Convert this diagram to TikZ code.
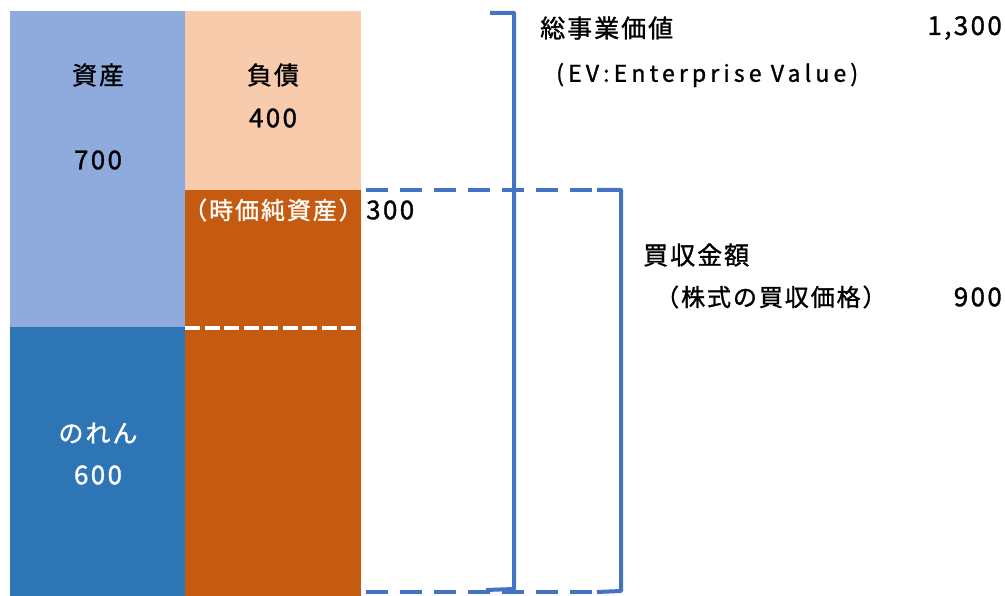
\documentclass[tikz,border=0pt]{standalone}
\usepackage{fontspec}
\setmainfont{Noto Sans CJK JP}
\newfontfamily\jp[LetterSpace=8,FakeBold=1.2]{Noto Sans CJK JP}
\newfontfamily\num[LetterSpace=9,FakeBold=1.2]{Noto Sans CJK JP}
\newfontfamily\lat[LetterSpace=18,FakeBold=1.2]{Noto Sans CJK JP}
\definecolor{lblue}{HTML}{8FAADC}
\definecolor{dblue}{HTML}{2E75B6}
\definecolor{lorange}{HTML}{F8CBAD}
\definecolor{dorange}{HTML}{C55A11}
\definecolor{bblue}{HTML}{4472C4}
\tikzset{
  lbl/.style={inner sep=0pt, font=\fontsize{25}{28}\selectfont\jp},
  numlbl/.style={inner sep=0pt, font=\fontsize{26}{28}\selectfont\num},
  brk/.style={draw=bblue, line width=4pt},
}
\begin{document}
\begin{tikzpicture}[x=1pt,y=-1pt]
\useasboundingbox (0,0) rectangle (1005,596);
\fill[lblue] (10,11) rectangle (185,327);
\fill[dblue] (10,327) rectangle (185,596);
\fill[lorange] (185,11) rectangle (361,190);
\fill[dorange] (185,190) rectangle (361,596);
\draw[white, line width=4pt, dash pattern=on 15pt off 4.5pt] (185,328) -- (358,328);

\node[lbl] (shisan) at (98,75) {資産};
\node[numlbl] (v700) at (98,160) {700};
\node[lbl] (fusai) at (273,75) {負債};
\node[numlbl] (v400) at (273,118) {400};
\node[lbl, text=white, font=\fontsize{24}{28}\selectfont\jp] (junshisan) at (273,210) {（時価純資産）};
\node[numlbl, anchor=west] (v300) at (366,210) {300};
\node[lbl, text=white] (noren) at (98,433) {のれん};
\node[numlbl, text=white] (v600) at (98,475) {600};

% EV bracket
\coordinate (e1) at (490,13);
\coordinate (e2) at (514,13);
\coordinate (e3) at (514,589);
\coordinate (e4) at (486,590);
\draw[brk, line join=round] (e1) -- (e2) -- (e3) -- (e4);

% purchase price bracket
\coordinate (p1) at (366,190);
\coordinate (p1b) at (600,190);
\coordinate (p2a) at (597,190);
\coordinate (p2) at (621,190);
\coordinate (p3) at (621,591);
\coordinate (p4a) at (597,592);
\coordinate (p4b) at (600,592);
\coordinate (p4) at (366,592);
\draw[brk, dash pattern=on 22pt off 12pt] (p1) -- (p1b);
\draw[brk, dash pattern=on 22pt off 12pt] (p4) -- (p4b);
\draw[brk, line join=round] (p2a) -- (p2) -- (p3) -- (p4a);

\node[lbl, anchor=west] (ev) at (540,28) {総事業価値};
\node[numlbl, anchor=east] (v1300) at (1002,28) {1,300};
\node[anchor=west, inner sep=0pt, font=\fontsize{23}{28}\selectfont\lat] (evsub) at (556,75) {(EV:Enterprise Value)};
\node[lbl, anchor=west] (kaishu) at (643,255) {買収金額};
\node[lbl, anchor=west, font=\fontsize{24}{28}\selectfont\jp] (kabu) at (655,297) {（株式の買収価格）};
\node[numlbl, anchor=east] (v900) at (1002,297) {900};
\end{tikzpicture}
\end{document}
